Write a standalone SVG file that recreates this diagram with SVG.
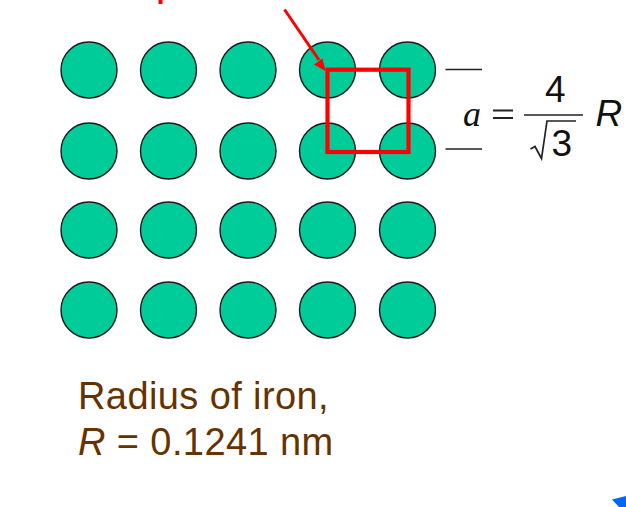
<svg xmlns="http://www.w3.org/2000/svg" width="626" height="507" viewBox="0 0 626 507">
<defs>
<style>
.atom{fill:#00cc99;stroke:#1a1a1a;stroke-width:1.4}
.brown{font-family:"Liberation Sans",Arial,sans-serif;font-size:38px;letter-spacing:.4px;fill:#663300}
.black{font-family:"Liberation Sans",Arial,sans-serif;fill:#111}
.ln{stroke:#222;stroke-width:1.3;fill:none}
</style>
<circle id="a" class="atom" r="28"/>
</defs>
<rect width="626" height="507" fill="#fff"/>
<g id="atoms">
<use href="#a" x="89" y="70"/><use href="#a" x="168.500" y="70"/><use href="#a" x="248" y="70"/><use href="#a" x="327.500" y="70"/><use href="#a" x="407.500" y="70"/>
<use href="#a" x="89" y="151"/><use href="#a" x="168.500" y="151"/><use href="#a" x="248" y="151"/><use href="#a" x="327.500" y="151"/><use href="#a" x="407.500" y="151"/>
<use href="#a" x="89" y="230"/><use href="#a" x="168.500" y="230"/><use href="#a" x="248" y="230"/><use href="#a" x="327.500" y="230"/><use href="#a" x="407.500" y="230"/>
<use href="#a" x="89" y="310"/><use href="#a" x="168.500" y="310"/><use href="#a" x="248" y="310"/><use href="#a" x="327.500" y="310"/><use href="#a" x="407.500" y="310"/>
</g>
<g id="connectors">
<rect x="327.500" y="69.700" width="81" height="82.300" fill="none" stroke="#ff0000" stroke-width="4.200"/>
<path d="M160.500 0V4" stroke="#ff0000" stroke-width="4" fill="none"/>
<path d="M284.500 9.500L319 60" stroke="#ff0000" stroke-width="3" fill="none"/>
<path d="M325.500 71L314 64.500L322.500 58.500Z" fill="#ff0000"/>
<path class="ln" d="M445.500 69.500H482M445.500 149H482"/>
<path d="M612 499.500L626 496V507H619Z" fill="#0066ff"/>
</g>
<g id="formula">
<text x="463" y="126" font-family="Liberation Serif,serif" font-style="italic" font-size="36" fill="#111">a</text>
<path d="M493 110.500H513M493 118H513" stroke="#222" stroke-width="1.800" fill="none"/>
<path class="ln" d="M524 115H583"/>
<text x="545" y="102" class="black" font-size="37">4</text>
<path d="M530.500 149L535 146.500L541.500 158.500L547 121H576" stroke="#222" stroke-width="1.700" fill="none"/>
<text x="551.500" y="156" class="black" font-size="37">3</text>
<text x="595.500" y="126" class="black" font-size="37" font-style="italic">R</text>
</g>
<g id="caption">
<text x="78" y="409" class="brown">Radius of iron,</text>
<text x="78" y="455" class="brown"><tspan font-style="italic">R</tspan> = 0.1241 nm</text>
</g>
</svg>
